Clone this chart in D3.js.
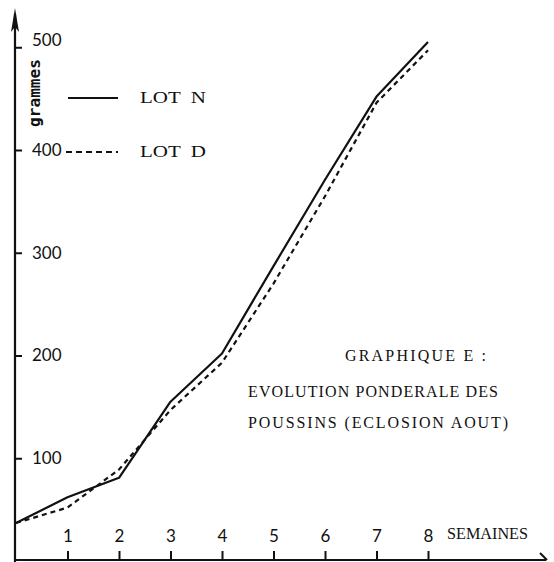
<!DOCTYPE html>
<html><head><meta charset="utf-8">
<script src="https://cdn.jsdelivr.net/npm/d3@7"></script>
<style>
html,body{margin:0;padding:0;background:#fff;}
svg{display:block;}
</style></head>
<body>
<script>
// ---- data ----
const weeks = [0, 1, 2, 3, 4, 5, 6, 7, 8];
const lotN = [37, 62, 81, 155, 202, 287, 371, 452, 505];
const lotD = [37, 52, 89, 147, 193, 270, 355, 446, 497];
const yTicks = [100, 200, 300, 400, 500];
const xTicks = [1, 2, 3, 4, 5, 6, 7, 8];
const seriesNames = ["LOT  N", "LOT  D"];
const titleLines = ["GRAPHIQUE E :", "EVOLUTION PONDERALE DES", "POUSSINS (ECLOSION AOUT)"];
const yTitle = "grammes";
const xTitle = "SEMAINES";

const W = 554, H = 562;
const ink = "#111";
const svg = d3.select("body").append("svg").attr("width", W).attr("height", H);

const x = d3.scaleLinear().domain([0, 8]).range([16, 428]);
const y = d3.scaleLinear().domain([0, 500]).range([561, 47.25]);
const x0 = x(0), xAxisY = 560;

// axes lines with arrows
svg.append("line").attr("x1", x0 - 1).attr("x2", x0 - 1).attr("y1", H).attr("y2", 14)
  .attr("stroke", ink).attr("stroke-width", 2.2);
svg.append("path").attr("d", `M${x0-1},8 L${x0-5},32 L${x0-1},27 L${x0+3},32 Z`).attr("fill", ink);
svg.append("line").attr("x1", x0 - 2).attr("x2", 546).attr("y1", xAxisY).attr("y2", xAxisY)
  .attr("stroke", ink).attr("stroke-width", 2);
svg.append("line").attr("x1", 540).attr("y1", 553).attr("x2", 547).attr("y2", 560)
  .attr("stroke", ink).attr("stroke-width", 2);

// y axis ticks
const yAxis = svg.append("g").attr("transform", `translate(${x0 - 1},0)`)
  .call(d3.axisRight(y).tickValues(yTicks).tickSize(7).tickPadding(10).tickFormat(d3.format("d")));
yAxis.select(".domain").remove();
yAxis.selectAll("line").attr("stroke", ink).attr("stroke-width", 2);
yAxis.selectAll("text").attr("fill", ink).style("font-family", "Lato, 'Open Sans', sans-serif")
  .style("font-size", "17px");
yAxis.selectAll(".tick").filter(d => d === 500).select("text").attr("dy", "-0.1em");

// x axis ticks
const xAxis = svg.append("g").attr("transform", `translate(0,${xAxisY})`)
  .call(d3.axisTop(x).tickValues(xTicks).tickSize(9).tickPadding(9).tickFormat(d3.format("d")));
xAxis.select(".domain").remove();
xAxis.selectAll("line").attr("stroke", ink).attr("stroke-width", 2);
xAxis.selectAll("text").attr("fill", ink).style("font-family", "Lato, 'Open Sans', sans-serif")
  .style("font-size", "17px");

svg.append("text").attr("x", 447).attr("y", 539).text(xTitle)
  .attr("fill", ink).style("font-family", "'Liberation Serif', serif").style("font-size", "16px")
  .attr("textLength", 81).attr("lengthAdjust", "spacingAndGlyphs");

// y title
svg.append("text").attr("transform", "translate(40,127) rotate(-90)").text(yTitle)
  .attr("fill", ink).style("font-family", "'DejaVu Sans Mono', monospace").style("font-weight", "bold")
  .style("font-size", "15px").attr("textLength", 68).attr("lengthAdjust", "spacingAndGlyphs");

// lines
const line = d3.line().x((d, i) => x(weeks[i])).y(d => y(d));
svg.append("path").datum(lotN).attr("d", line).attr("fill", "none")
  .attr("stroke", ink).attr("stroke-width", 2.2).attr("stroke-linejoin", "round");
svg.append("path").datum(lotD).attr("d", line).attr("fill", "none")
  .attr("stroke", ink).attr("stroke-width", 2.2).attr("stroke-dasharray", "5,4");

// legend
const legY = [98, 152];
svg.append("line").attr("x1", 68).attr("x2", 118).attr("y1", legY[0]).attr("y2", legY[0])
  .attr("stroke", ink).attr("stroke-width", 2.2);
svg.append("line").attr("x1", 66).attr("x2", 118).attr("y1", legY[1]).attr("y2", legY[1])
  .attr("stroke", ink).attr("stroke-width", 2).attr("stroke-dasharray", "6,4");
seriesNames.forEach((s, i) => {
  svg.append("text").attr("x", 140).attr("y", legY[i] + 5).text(s)
    .attr("fill", ink).style("font-family", "'Liberation Serif', serif").style("font-size", "16px")
    .style("white-space", "pre").attr("xml:space", "preserve")
    .attr("textLength", 66).attr("lengthAdjust", "spacingAndGlyphs");
});

// annotation
const tl = [{x: 345, y: 361, w: 141}, {x: 248, y: 397, w: 250}, {x: 248, y: 428, w: 260}];
titleLines.forEach((t, i) => {
  svg.append("text").attr("x", tl[i].x).attr("y", tl[i].y).text(t)
    .attr("fill", ink).style("font-family", "'Liberation Serif', serif").style("font-size", "16px")
    .attr("textLength", tl[i].w).attr("lengthAdjust", "spacing");
});
</script>
</body></html>
